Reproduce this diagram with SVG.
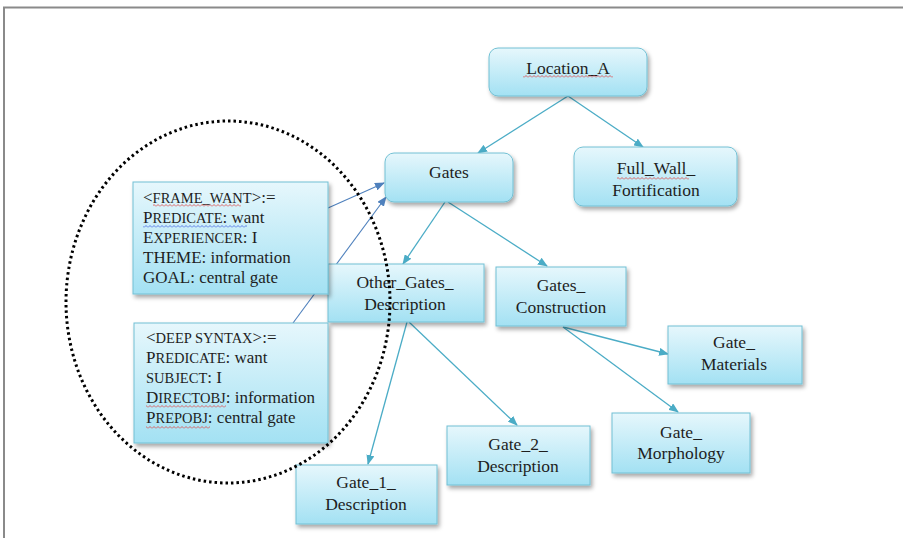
<svg xmlns="http://www.w3.org/2000/svg" width="903" height="538" viewBox="0 0 903 538">
<style>
.box{fill:url(#g);stroke:#72c0d4;stroke-width:1;filter:url(#sh)}
.t{font-family:"Liberation Serif","Times New Roman",serif;font-size:17.5px;fill:#1e1e1e;text-anchor:middle}
.f{font-family:"Liberation Serif","Times New Roman",serif;font-size:17px;fill:#1e1e1e}
.sc{font-size:14.5px}
.e{stroke:#4bacc6;stroke-width:1.3;fill:none;marker-end:url(#ah)}
.eb{stroke:#4f81bd;stroke-width:1.1;fill:none;marker-end:url(#ahb)}
.wr{fill:url(#wavr)}
.wb{fill:url(#wavb)}
</style>
<defs>
<linearGradient id="g" x1="0" y1="0" x2="0" y2="1">
<stop offset="0" stop-color="#e6f7fc"/>
<stop offset="1" stop-color="#a3e1f3"/>
</linearGradient>
<filter id="sh" x="-10%" y="-10%" width="125%" height="130%">
<feDropShadow dx="2" dy="3" stdDeviation="2" flood-color="#000" flood-opacity="0.35"/>
</filter>
<marker id="ah" markerUnits="userSpaceOnUse" markerWidth="10" markerHeight="8" refX="9" refY="4" orient="auto">
<path d="M0,0 L10,4 L0,8 z" fill="#4bacc6"/>
</marker>
<marker id="ahb" markerUnits="userSpaceOnUse" markerWidth="10" markerHeight="8" refX="9" refY="4" orient="auto">
<path d="M0,0 L10,4 L0,8 z" fill="#4f81bd"/>
</marker>
<pattern id="wavr" width="4" height="3" patternUnits="userSpaceOnUse">
<path d="M0,2.5 L2,0.5 L4,2.5" stroke="#e04040" stroke-width="0.8" fill="none"/>
</pattern>
<pattern id="wavb" width="4" height="3" patternUnits="userSpaceOnUse">
<path d="M0,2.5 L2,0.5 L4,2.5" stroke="#4060e0" stroke-width="0.8" fill="none"/>
</pattern>
</defs>
<rect width="903" height="538" fill="#fff"/>
<path d="M4,538 L4,7.5 L903,7.5" stroke="#8a8a8a" stroke-width="2" fill="none"/>

<g id="connectors">
<line class="e" x1="568" y1="96" x2="478" y2="153"/>
<line class="e" x1="568" y1="96" x2="643" y2="147"/>
<line class="e" x1="445" y1="202" x2="403" y2="264"/>
<line class="e" x1="448" y1="202" x2="547" y2="266"/>
<line class="e" x1="407" y1="322" x2="368" y2="464"/>
<line class="e" x1="409" y1="322" x2="517" y2="425"/>
<line class="e" x1="563" y1="327" x2="668" y2="354"/>
<line class="e" x1="563" y1="327" x2="678" y2="412"/>
<line class="eb" x1="328" y1="208" x2="384" y2="183"/>
<line class="eb" x1="293" y1="323" x2="386" y2="197"/>
</g>

<g id="location_a">
<rect class="box" x="489" y="48" width="158" height="48" rx="9"/>
<text class="t" x="568" y="74">Location_A</text>
<rect class="wr" x="523" y="75" width="90" height="3"/>
</g>
<g id="full_wall">
<rect class="box" x="574" y="147" width="163" height="59" rx="9"/>
<text class="t" x="656" y="174">Full_Wall_</text>
<text class="t" x="656" y="196">Fortification</text>
<rect class="wr" x="617" y="177" width="72" height="3"/>
</g>
<g id="gates">
<rect class="box" x="385" y="153" width="128" height="49" rx="9"/>
<text class="t" x="449" y="178">Gates</text>
</g>
<g id="other_gates">
<rect class="box" x="328" y="264" width="156" height="58"/>
<text class="t" x="405" y="288">Other_Gates_</text>
<text class="t" x="405" y="310">Description</text>
</g>
<g id="gates_construction">
<rect class="box" x="496" y="267" width="130" height="59"/>
<text class="t" x="561" y="291">Gates_</text>
<text class="t" x="561" y="313">Construction</text>
</g>
<g id="gate_materials">
<rect class="box" x="668" y="326" width="134" height="58"/>
<text class="t" x="734" y="348">Gate_</text>
<text class="t" x="734" y="370">Materials</text>
</g>
<g id="gate_morphology">
<rect class="box" x="612" y="413" width="138" height="60"/>
<text class="t" x="681" y="438">Gate_</text>
<text class="t" x="681" y="459">Morphology</text>
</g>
<g id="gate_2">
<rect class="box" x="447" y="426" width="143" height="59"/>
<text class="t" x="518" y="450">Gate_2_</text>
<text class="t" x="518" y="472">Description</text>
</g>
<g id="gate_1">
<rect class="box" x="296" y="465" width="141" height="59"/>
<text class="t" x="366" y="488">Gate_1_</text>
<text class="t" x="366" y="510">Description</text>
</g>

<g id="frame_want">
<rect class="box" x="133" y="182" width="195" height="112"/>
<text class="f" x="143" y="203">&lt;<tspan class="sc">FRAME_WANT</tspan>&gt;:=</text>
<text class="f" x="143" y="223">P<tspan class="sc">REDICATE</tspan>: want</text>
<text class="f" x="143" y="243">E<tspan class="sc">XPERIENCER</tspan>: I</text>
<text class="f" x="143" y="263">THEME: information</text>
<text class="f" x="143" y="283">GOAL: central gate</text>
<rect class="wr" x="153" y="204" width="88" height="3"/>
<rect class="wb" x="143" y="225" width="104" height="3"/>
</g>
<g id="deep_syntax">
<rect class="box" x="134" y="323" width="194" height="120"/>
<text class="f" x="146" y="343">&lt;<tspan class="sc">DEEP SYNTAX</tspan>&gt;:=</text>
<text class="f" x="146" y="363">P<tspan class="sc">REDICATE</tspan>: want</text>
<text class="f" x="146" y="383"><tspan class="sc">SUBJECT</tspan>: I</text>
<text class="f" x="146" y="403">D<tspan class="sc">IRECTOBJ</tspan>: information</text>
<text class="f" x="146" y="423">P<tspan class="sc">REPOBJ</tspan>: central gate</text>
<rect class="wr" x="146" y="405" width="80" height="3"/>
<rect class="wr" x="146" y="426" width="64" height="3"/>
</g>

<ellipse id="scope" cx="228" cy="302" rx="162" ry="181" fill="none" stroke="#000" stroke-width="3" stroke-dasharray="2.5 3"/>
</svg>
